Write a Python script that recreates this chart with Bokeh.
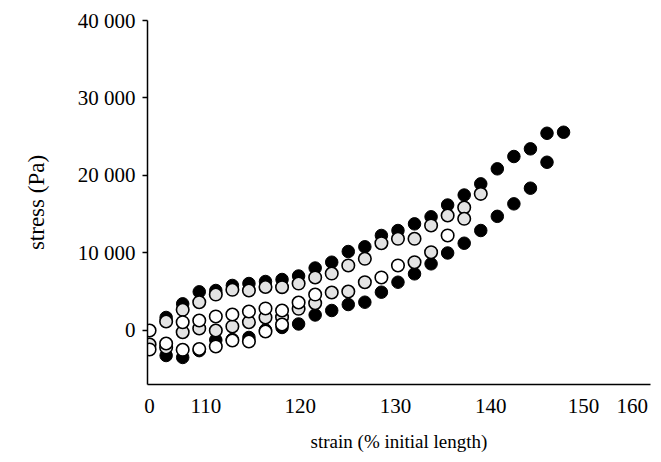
from bokeh.plotting import figure
from bokeh.models import FixedTicker, Range1d
from bokeh.embed import file_html
from bokeh.resources import INLINE

# ---- data (strain in %, stress in Pa) ----
black_strain = [102, 104, 106, 108, 110, 112, 114, 116, 118, 120, 122, 124, 126, 128, 130,
                132, 134, 136, 138, 140, 142, 144, 146, 148, 150,
                148, 146, 144, 142, 140, 138, 136, 134, 132, 130, 128, 126, 124, 122,
                120, 118, 116, 114, 112, 110, 108, 106, 104, 102]
black_stress = [1680, 3440, 4990, 5160, 5810, 6060, 6320, 6580, 7030, 8060, 8810, 10190, 10800, 12260, 12900,
                13760, 14670, 16190, 17480, 18920, 20860, 22450, 23440, 25450, 25580,
                21710, 18360, 16340, 14730, 12900, 11260, 10000, 8600, 7310, 6230, 4940, 3650, 3350, 2580,
                2000, 840, 390, 60, -900, -1160, -1230, -2600, -3480, -3230]

gray_strain = [102, 104, 106, 108, 110, 112, 114, 116, 118, 120, 122, 124, 126, 128, 130,
               132, 134, 136, 138, 140,
               138, 134, 132, 126, 124, 122, 120, 118, 116, 114, 112, 110, 108, 106, 104, 102, 100]
gray_stress = [1160, 2670, 3650, 4640, 5250, 5160, 5610, 5590, 6060, 6840, 7350, 8390, 9250, 11260, 11830,
               11830, 13550, 14840, 15870, 17630,
               14410, 10100, 8810, 6230, 5030, 4900, 3520, 2800, 1720, 1680, 1070, 520, 0, 260, -220, -2190, -1810]

open_strain = [100, 104, 106, 108, 110, 112, 114, 116, 118, 120, 128, 130, 136,
               116, 114, 112, 110, 108, 106, 104, 102, 100]
open_stress = [0, 1070, 1290, 1810, 2060, 2450, 2840, 2580, 3610, 4640, 6840, 8390, 12260,
               770, -130, -1420, -1290, -2060, -2390, -2490, -1680, -2450]

x_tick_positions = [100.0, 106.8, 118.2, 129.7, 141.2, 152.4, 158.3]
x_tick_labels = ["0", "110", "120", "130", "140", "150", "160"]
y_tick_positions = [0, 10000, 20000, 30000, 40000]
y_tick_labels = ["0", "10 000", "20 000", "30 000", "40 000"]

FONT = "Liberation Serif"

p = figure(width=653, height=454, output_backend="svg", toolbar_location=None,
           x_range=Range1d(99.75, 160.5), y_range=Range1d(-6970, 40000),
           min_border_left=147, min_border_right=3, min_border_top=20, min_border_bottom=70)
p.outline_line_color = None
p.grid.visible = False
p.background_fill_color = "white"
p.border_fill_color = "white"

p.scatter(black_strain, black_stress, marker="circle", size=12.5,
          fill_color="black", line_color="black", line_width=1)
p.scatter(gray_strain, gray_stress, marker="circle", size=12.5,
          fill_color="#e3e3e3", line_color="black", line_width=1.6)
p.scatter(open_strain, open_stress, marker="circle", size=12.5,
          fill_color="white", line_color="black", line_width=1.6)

xa = p.xaxis[0]
xa.ticker = FixedTicker(ticks=x_tick_positions)
xa.major_label_overrides = {t: l for t, l in zip(x_tick_positions, x_tick_labels)}
xa.major_tick_out = 0
xa.major_tick_in = 0
xa.minor_tick_out = 0
xa.minor_tick_in = 0
xa.major_tick_line_color = None
xa.minor_tick_line_color = None
xa.major_label_standoff = 14
xa.axis_label = "strain (% initial length)"
xa.axis_label_standoff = 15
xa.axis_line_width = 1.5
xa.axis_line_color = "black"
xa.axis_label_text_font_size = "19px"

ya = p.yaxis[0]
ya.ticker = FixedTicker(ticks=y_tick_positions)
ya.major_label_overrides = {t: l for t, l in zip(y_tick_positions, y_tick_labels)}
ya.major_tick_out = 5
ya.major_tick_in = 0
ya.minor_tick_line_color = None
ya.minor_tick_out = 0
ya.minor_tick_in = 0
ya.major_label_standoff = 7
ya.axis_label = "stress (Pa)"
ya.axis_label_standoff = 26
ya.axis_line_width = 1.5
ya.axis_line_color = "black"
ya.major_tick_line_width = 1.5
ya.axis_label_text_font_size = "23px"

for ax in (xa, ya):
    ax.major_label_text_font = FONT
    ax.major_label_text_font_size = "21px"
    ax.major_label_text_color = "black"
    ax.axis_label_text_font = FONT
    ax.axis_label_text_font_style = "normal"
    ax.axis_label_text_color = "black"

open("out.html", "w").write(file_html(p, INLINE))
